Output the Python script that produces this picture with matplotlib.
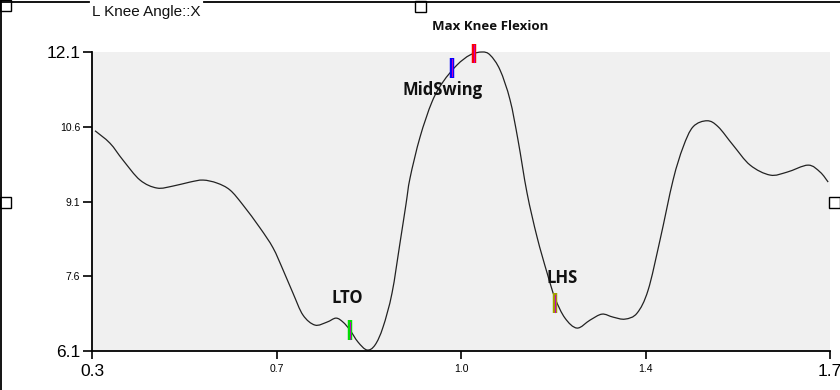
import matplotlib
matplotlib.use('Agg')
import matplotlib.pyplot as plt
from matplotlib.lines import Line2D
from matplotlib.patches import Rectangle, PathPatch
from matplotlib.path import Path

# traced curve (time s, angle deg)
t = [0.3057, 0.3341, 0.3588, 0.3911, 0.4233, 0.4537, 0.4859, 0.5106, 0.5371, 0.5618,
     0.5864, 0.6187, 0.6434, 0.6623, 0.6813, 0.7003, 0.7230, 0.7458, 0.7629, 0.7762,
     0.7894, 0.8046, 0.8217, 0.8369, 0.8521, 0.8691, 0.8843, 0.8957, 0.9033, 0.9222,
     0.9450, 0.9659, 0.9925, 1.0171, 1.0399, 1.0551, 1.0740, 1.0930, 1.1082,
     1.1253, 1.1442, 1.1632, 1.1784, 1.1973, 1.2201, 1.2448, 1.2675, 1.2884, 1.3112,
     1.3340, 1.3549, 1.3776, 1.4023, 1.4213, 1.4403, 1.4669, 1.4878, 1.5162,
     1.5485, 1.5865, 1.6187, 1.6585, 1.6813, 1.6965]
angle = [10.52, 10.27, 9.93, 9.53, 9.37, 9.41, 9.49, 9.53, 9.47, 9.33,
         9.03, 8.57, 8.17, 7.73, 7.26, 6.82, 6.62, 6.68, 6.76, 6.68,
         6.52, 6.28, 6.12, 6.22, 6.58, 7.26, 8.27, 9.05, 9.57, 10.39,
         11.10, 11.50, 11.84, 12.04, 12.10, 12.04, 11.74, 11.14, 10.33,
         9.27, 8.39, 7.67, 7.16, 6.76, 6.56, 6.72, 6.84, 6.78, 6.74,
         6.86, 7.32, 8.33, 9.53, 10.19, 10.60, 10.72, 10.60, 10.23,
         9.83, 9.63, 9.69, 9.83, 9.69, 9.49]

ev_names = ['LTO', 'MidSwing', 'Max Knee Flexion', 'LHS']
ev_t = [0.7894, 0.983, 1.0247, 1.1784]
ev_val = [6.52, 11.78, 12.07, 7.06]
ev_col = ['#00e000', '#0000ff', '#ff0000', '#a0a000']

xt = [0.3, 0.65, 1.0, 1.35, 1.7]
xt_lab = ['0.3', '0.7', '1.0', '1.4', '1.7']
yt = [6.1, 7.6, 9.1, 10.6, 12.1]
yt_lab = ['6.1', '7.6', '9.1', '10.6', '12.1']

W, H = 840, 390
fig = plt.figure(figsize=(W/100, H/100), dpi=100)
ax = fig.add_axes([92/W, 1-351/H, 738/W, 299/H])
ax.set_facecolor('#f0f0f0')

# smooth line through the traced points (Catmull-Rom as cubic Bezier)
verts = [(t[0], angle[0])]
codes = [Path.MOVETO]
n = len(t)
for i in range(n-1):
    p0 = (t[max(i-1, 0)], angle[max(i-1, 0)])
    p1 = (t[i], angle[i])
    p2 = (t[i+1], angle[i+1])
    p3 = (t[min(i+2, n-1)], angle[min(i+2, n-1)])
    c1 = (p1[0] + (p2[0]-p0[0])/6, p1[1] + (p2[1]-p0[1])/6)
    c2 = (p2[0] - (p3[0]-p1[0])/6, p2[1] - (p3[1]-p1[1])/6)
    verts += [c1, c2, p2]
    codes += [Path.CURVE4]*3
ax.add_patch(PathPatch(Path(verts, codes), facecolor='none', edgecolor='#222222',
                       lw=0.9, clip_on=False))

ax.set_xlim(0.3, 1.7)
ax.set_ylim(6.1, 12.1)
for s in ['top', 'right']:
    ax.spines[s].set_visible(False)
for s in ['left', 'bottom']:
    ax.spines[s].set_linewidth(1.3)

ax.set_xticks(xt)
ax.set_xticklabels(xt_lab, family='Liberation Sans', fontsize=7.5)
ax.set_yticks(yt)
ax.set_yticklabels(yt_lab, family='Liberation Sans', fontsize=7.5)
ax.tick_params(axis='x', length=6, width=1.2, pad=3)
ax.tick_params(axis='y', length=6.5, width=1.2, pad=2)
for lab in (ax.get_xticklabels()[0], ax.get_xticklabels()[-1]):
    lab.set_fontsize(12.5)
for lab in (ax.get_yticklabels()[0], ax.get_yticklabels()[-1]):
    lab.set_fontsize(12.5)

# event markers
for x, v, c in zip(ev_t, ev_val, ev_col):
    ax.plot([x, x], [v-0.2, v+0.2], color=c, lw=3.2, solid_capstyle='butt', clip_on=False, zorder=3)
    ax.plot([x, x], [v-0.17, v+0.17], color='#c000c0', lw=0.8, clip_on=False, zorder=4)

lab_pos = {'LTO': (347, 298, 12), 'MidSwing': (443, 90, 12),
           'Max Knee Flexion': (490, 27, 9.5), 'LHS': (562, 278, 12)}
for name in ev_names:
    px, py, fs = lab_pos[name]
    fig.text(px/W, 1-py/H, name, ha='center', va='center', fontsize=fs,
             fontweight='bold', family='Open Sans', color='#111111')

fig.text(92/W, 1-12/H, 'L Knee Angle::X', ha='left', va='center', fontsize=11,
         family='Liberation Sans', color='#111111')

# outer frame and handles
def fl(x0, y0, x1, y1):
    fig.add_artist(Line2D([x0/W, x1/W], [1-y0/H, 1-y1/H], color='black', lw=1.3))
fl(1, 0, 1, H)
fl(0, 1.5, 89, 1.5)
fl(204, 1.5, W, 1.5)
for (bx, by) in [(0, 0), (415, 1), (0, 197), (829, 197)]:
    fig.add_artist(Rectangle((bx/W, 1-(by+11)/H), 11/W, 11/H, transform=fig.transFigure,
                             fill=False, edgecolor='black', lw=1))

fig.savefig('out.png', dpi=100)
